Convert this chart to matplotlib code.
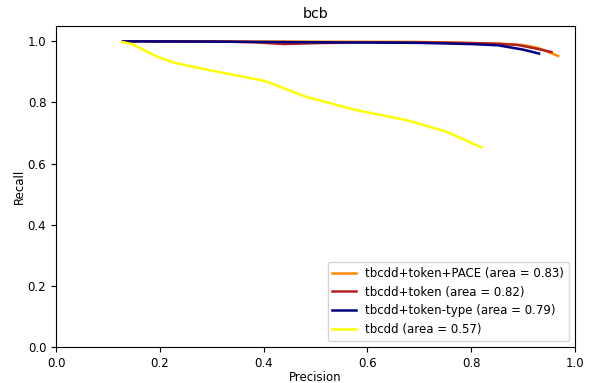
import matplotlib
matplotlib.use("Agg")
import matplotlib.pyplot as plt

# precision / recall points
pace_p = [0.129, 0.30, 0.50, 0.70, 0.85, 0.90, 0.93, 0.968]
pace_r = [1.0, 1.0, 0.999, 0.998, 0.993, 0.988, 0.978, 0.952]

token_p = [0.129, 0.30, 0.38, 0.44, 0.50, 0.60, 0.75, 0.85, 0.89, 0.926, 0.955]
token_r = [1.0, 1.0, 0.997, 0.991, 0.994, 0.997, 0.996, 0.992, 0.988, 0.976, 0.965]

type_p = [0.129, 0.30, 0.50, 0.70, 0.80, 0.852, 0.90, 0.931]
type_r = [1.0, 0.999, 0.997, 0.995, 0.991, 0.987, 0.973, 0.960]

base_p = [0.128, 0.148, 0.165, 0.194, 0.223, 0.277, 0.403, 0.483, 0.579, 0.676, 0.753, 0.820]
base_r = [0.998, 0.990, 0.975, 0.951, 0.932, 0.912, 0.870, 0.818, 0.775, 0.742, 0.704, 0.653]

plt.rcParams['font.size'] = 8.5

fig, ax = plt.subplots(figsize=(5.92, 3.83), dpi=100)
fig.subplots_adjust(left=0.0946, right=0.971, bottom=0.094, top=0.932)

ax.plot(pace_p, pace_r, color='darkorange', lw=1.8, label='tbcdd+token+PACE (area = 0.83)')
ax.plot(token_p, token_r, color='firebrick', lw=1.8, label='tbcdd+token (area = 0.82)')
ax.plot(type_p, type_r, color='navy', lw=1.8, label='tbcdd+token-type (area = 0.79)')
ax.plot(base_p, base_r, color='yellow', lw=1.8, label='tbcdd (area = 0.57)')

ax.set_xlim(0, 1)
ax.set_ylim(0, 1.05)
ax.set_xlabel('Precision', labelpad=1)
ax.set_ylabel('Recall', labelpad=1)
ax.set_title('bcb')
ax.legend(loc='lower right')

fig.savefig('out.png', dpi=100)
